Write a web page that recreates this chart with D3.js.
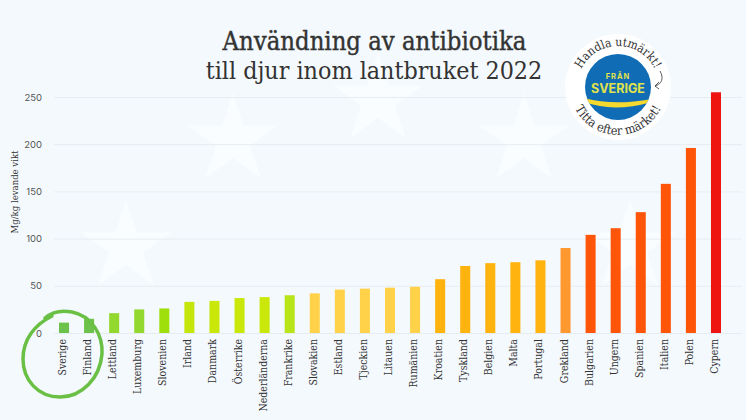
<!DOCTYPE html>
<html>
<head>
<meta charset="utf-8">
<script src="https://cdnjs.cloudflare.com/ajax/libs/d3/7.8.5/d3.min.js"></script>
<style>
html, body { margin: 0; padding: 0; background: #f4f9fd; }
svg { display: block; }
text { font-family: "DejaVu Serif Condensed", "DejaVu Serif", serif; fill: #333; }
</style>
</head>
<body>
<svg id="chart" width="746" height="420"></svg>
<script>
"use strict";

var countries = ["Sverige", "Finland", "Lettland", "Luxemburg", "Slovenien", "Irland", "Danmark", "Österrike", "Nederländerna", "Frankrike", "Slovakien", "Estland", "Tjeckien", "Litauen", "Rumänien", "Kroatien", "Tyskland", "Belgien", "Malta", "Portugal", "Grekland", "Bulgarien", "Ungern", "Spanien", "Italien", "Polen", "Cypern"];
var values = [11, 15, 21, 25, 26, 33, 34, 37, 38, 40, 42, 46, 47, 48, 49, 57, 71, 74, 75, 77, 90, 104, 111, 128, 158, 196, 255];
var colors = ["#6cc24a", "#6cc24a", "#93d82e", "#93d82e", "#9fdf0c", "#c4e60a", "#c9e80a", "#c9e80a", "#c9e80a", "#b8e41a", "#ffd24a", "#ffd24a", "#ffd24a", "#ffd24a", "#ffd24a", "#ffb30f", "#ffb30f", "#ffb30f", "#ffb30f", "#ffb30f", "#ff982e", "#ff5508", "#ff5508", "#ff5508", "#ff5508", "#ff5508", "#ee1410"];
var yTicks = [0, 50, 100, 150, 200, 250];
var starCentres = [[126, 247], [233, 140], [378, 100], [524, 140], [630, 247]];

var svg = d3.select("#chart");

var x = d3.scaleBand().domain(countries).range([59, 721]).paddingInner(0.6).paddingOuter(0);
var y = d3.scaleLinear().domain([0, 250]).range([333, 97]);

// faint stars behind the grid
var star = d3.symbol().type(d3.symbolStar).size(2511);
svg.append("g").selectAll("path")
  .data(starCentres)
  .join("path")
  .attr("transform", function(d) { return "translate(" + d + ")"; })
  .attr("d", star)
  .attr("fill", "#fafdff");

// y axis with grid lines
var yAxis = svg.append("g")
  .attr("transform", "translate(54,0)")
  .call(d3.axisLeft(y).tickValues(yTicks).tickSize(-688).tickPadding(12));
yAxis.select(".domain").remove();
yAxis.selectAll("line").attr("stroke", "#e6edf2");
yAxis.selectAll("text")
  .style("font-family", "Inter, sans-serif")
  .style("font-size", "9.5px")
  .style("fill", "#555");

svg.append("text")
  .attr("transform", "translate(18,192) rotate(-90)")
  .attr("text-anchor", "middle")
  .style("font-size", "9.5px")
  .text("Mg/kg levande vikt");

// bars
svg.append("g").selectAll("rect")
  .data(countries)
  .join("rect")
  .attr("x", function(d) { return x(d); })
  .attr("width", x.bandwidth())
  .attr("y", function(d, i) { return y(values[i]); })
  .attr("height", function(d, i) { return y(0) - y(values[i]); })
  .attr("fill", function(d, i) { return colors[i]; });

// country labels
var xAxis = svg.append("g")
  .attr("transform", "translate(0,333)")
  .call(d3.axisBottom(x).tickSize(0));
xAxis.select(".domain").attr("stroke", "#e6edf2");
xAxis.selectAll("text")
  .attr("transform", "rotate(-90)")
  .attr("x", -6)
  .attr("y", 2)
  .attr("dy", 0)
  .attr("text-anchor", "end")
  .style("font-size", "10.5px")
  .style("fill", "#333");

// hand drawn ring around the best two
svg.append("path")
  .attr("d", "M45,318 C52,312 62,310 72,312 C92,316 103,335 102,354 C100,378 82,397 60,397 C38,397 23,380 23,359 C23,340 34,325 52,316")
  .attr("fill", "none")
  .attr("stroke", "#6abf45")
  .attr("stroke-width", 3.5)
  .attr("stroke-linecap", "round");

// title
svg.append("text")
  .attr("x", 374.5).attr("y", 50)
  .attr("text-anchor", "middle")
  .style("font-size", "25.4px")
  .style("stroke", "#333")
  .style("stroke-width", "0.4px")
  .text("Användning av antibiotika");
svg.append("text")
  .attr("x", 374).attr("y", 79)
  .attr("text-anchor", "middle")
  .style("font-size", "24.8px")
  .text("till djur inom lantbruket 2022");

// badge
var badge = svg.append("g").attr("transform", "translate(618,87)");
var defs = svg.append("defs");
defs.append("path").attr("id", "arcTop").attr("d", "M-41,0 A41,41 0 0 1 41,0");
defs.append("path").attr("id", "arcBottom").attr("d", "M-48,0 A48,48 0 0 0 48,0");
defs.append("clipPath").attr("id", "blueClip").append("circle").attr("r", 33);

badge.append("circle").attr("r", 53).attr("fill", "#ffffff");
badge.append("circle").attr("r", 33).attr("fill", "#0f6cb5");
badge.append("text").style("font-size", "12px")
  .append("textPath").attr("href", "#arcTop").attr("startOffset", "50%").attr("text-anchor", "middle").text("Handla utmärkt!");
badge.append("text").style("font-size", "12.5px")
  .append("textPath").attr("href", "#arcBottom").attr("startOffset", "50%").attr("text-anchor", "middle").text("Titta efter märket!");
badge.append("text").attr("y", -8).attr("text-anchor", "middle")
  .style("font-family", "Inter, sans-serif").style("font-size", "7.5px").style("font-weight", "bold").style("letter-spacing", "1px").style("fill", "#e2e34a").text("FRÅN");
badge.append("text").attr("y", 6).attr("text-anchor", "middle")
  .style("font-family", "Inter, sans-serif").style("font-size", "12.5px").style("font-weight", "bold").style("fill", "#e2e34a").text("SVERIGE");
badge.append("path")
  .attr("clip-path", "url(#blueClip)")
  .attr("d", "M-34,11 Q-5,19 34,12 L34,15 Q-5,26 -34,15 Z")
  .attr("fill", "#f6d92e");
badge.append("path")
  .attr("d", "M42,-16 C46,-9 44,-3 37,-1 M37,-1 L41,-5 M37,-1 L41,2")
  .attr("fill", "none").attr("stroke", "#333").attr("stroke-width", 0.8);
</script>
</body>
</html>
